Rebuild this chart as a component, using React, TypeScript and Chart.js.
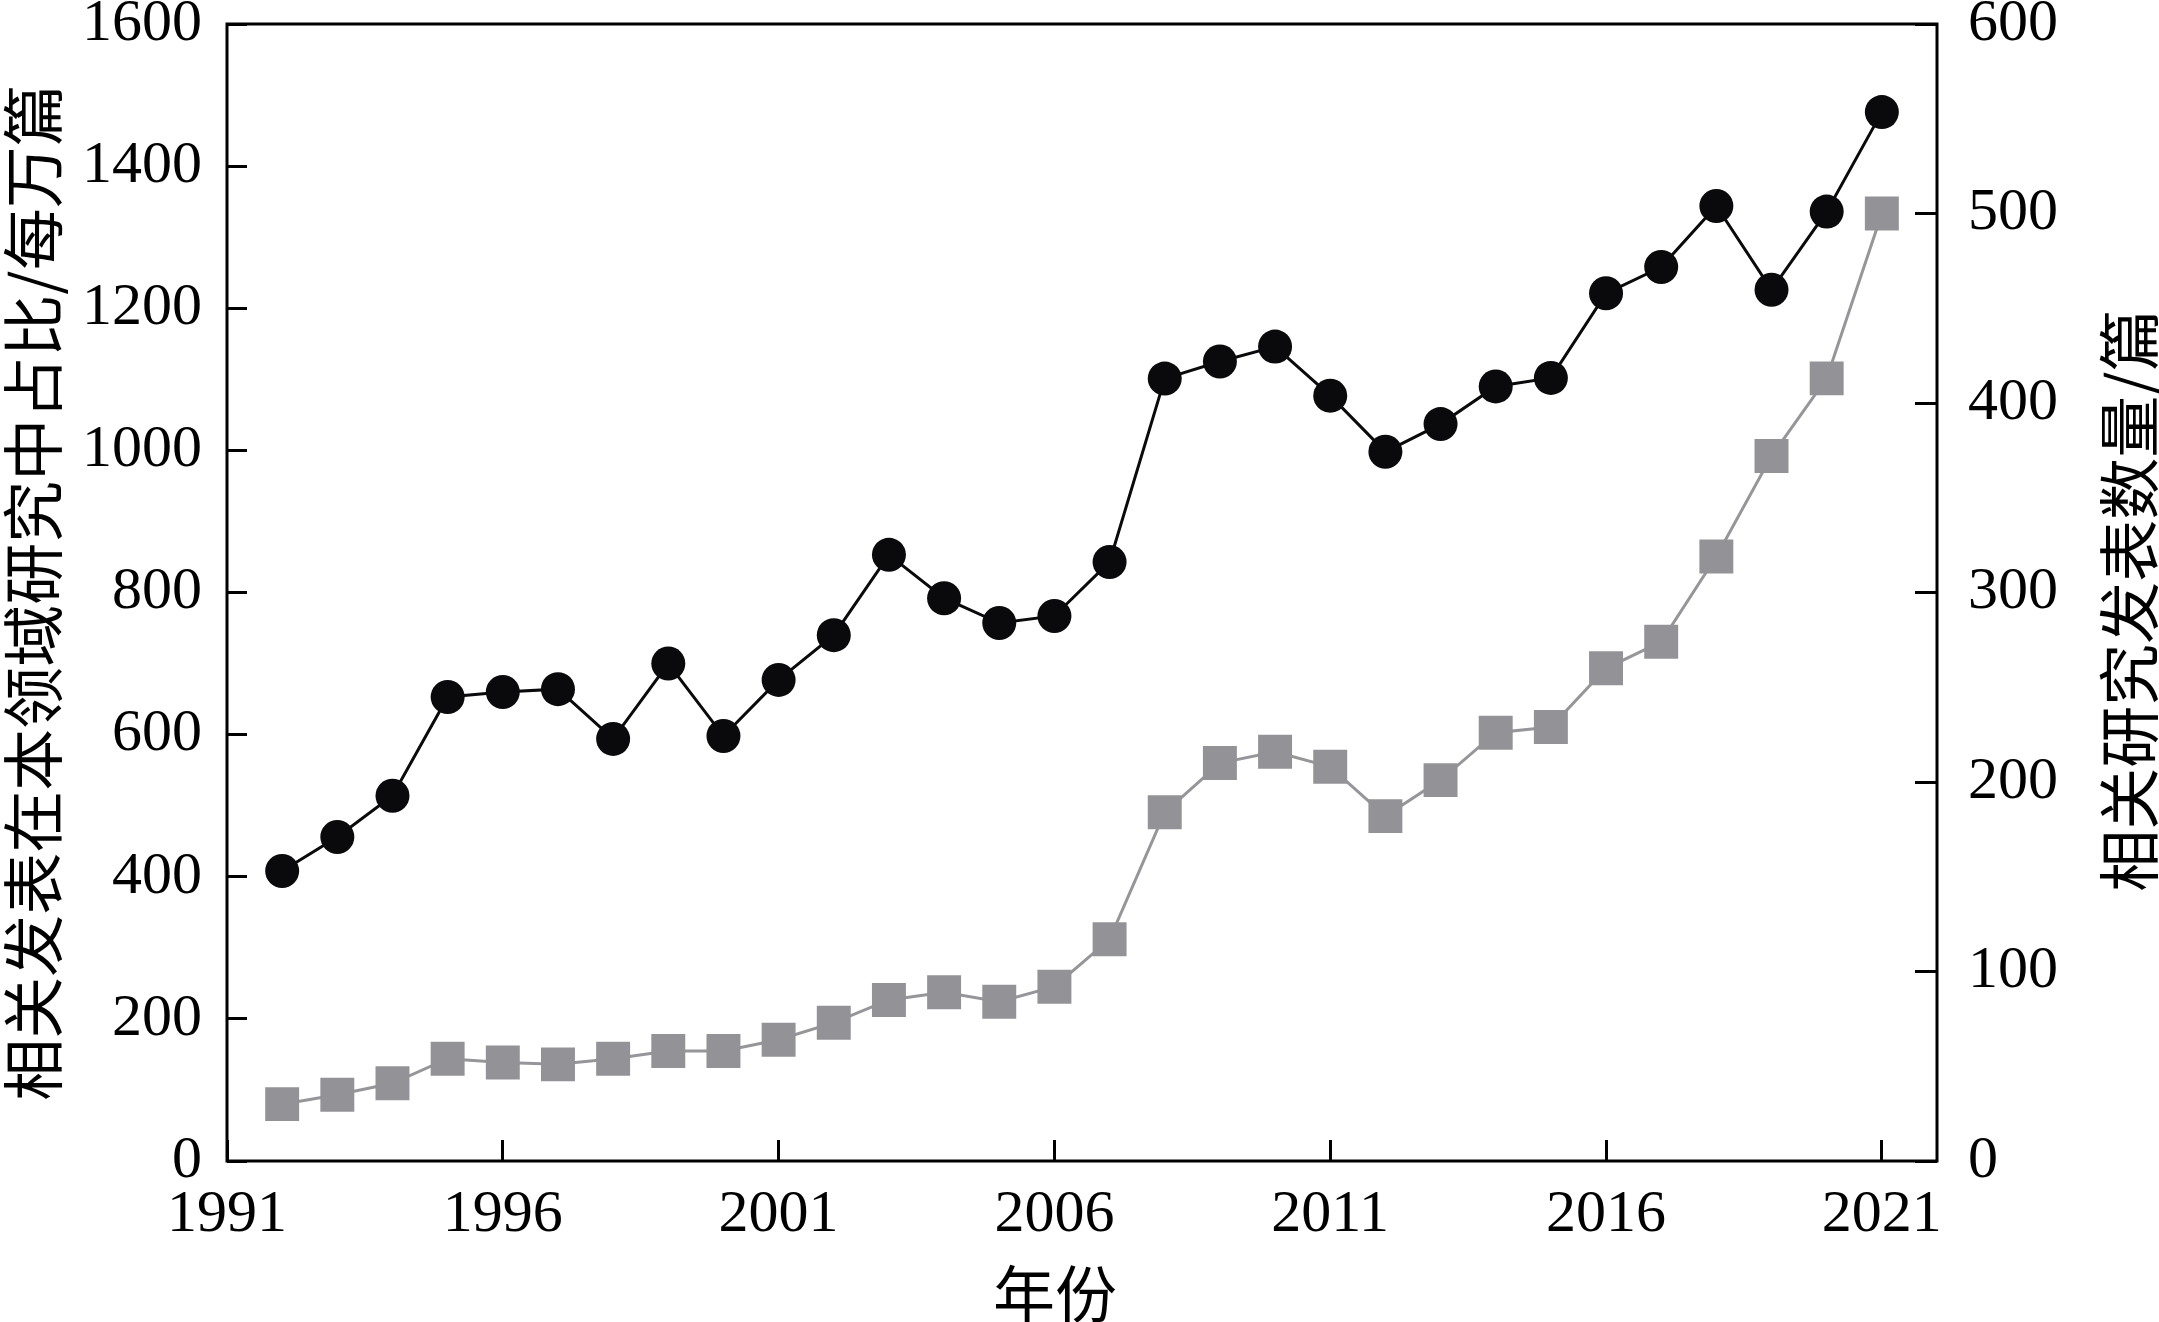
import React, { useEffect, useRef } from "react";
import { Chart, registerables } from "chart.js";

Chart.register(...registerables);

const years = [
  1992, 1993, 1994, 1995, 1996, 1997, 1998, 1999, 2000, 2001,
  2002, 2003, 2004, 2005, 2006, 2007, 2008, 2009, 2010, 2011,
  2012, 2013, 2014, 2015, 2016, 2017, 2018, 2019, 2020, 2021,
];
const shareValues = [
  408, 456, 514, 653, 660, 664, 594, 700, 598, 677,
  740, 853, 792, 757, 767, 843, 1101, 1125, 1146, 1077,
  998, 1037, 1090, 1102, 1221, 1258, 1344, 1226, 1336, 1476,
];
const countValues = [
  30, 35, 41, 54, 52, 51, 54, 58, 58, 64,
  73, 85, 89, 84, 92, 117, 184, 210, 216, 208,
  182, 201, 226, 229, 260, 274, 319, 372, 413, 500,
];
const xTicks = [1991, 1996, 2001, 2006, 2011, 2016, 2021];
const leftTitle = "相关发表在本领域研究中占比/每万篇";
const rightTitle = "相关研究发表数量/篇";
const xTitle = "年份";

const W = 2159;
const H = 1322;

export default function App() {
  const ref = useRef<HTMLCanvasElement>(null);

  useEffect(() => {
    const canvas = ref.current;
    if (!canvas) return;
    let chart: any = null;
    let cancelled = false;
    const tickFont = { family: "'Liberation Serif'", size: 60, lineHeight: 1 };
    const cjkFont = "62px 'Noto Sans CJK SC'";

    const framePlugin = {
      id: "frameAndTitles",
      afterDraw(c: any) {
        const { ctx, chartArea: a } = c;
        ctx.save();
        ctx.strokeStyle = "#000";
        ctx.lineWidth = 3;
        ctx.strokeRect(a.left, a.top, a.right - a.left, a.bottom - a.top);
        ctx.fillStyle = "#000";
        ctx.font = cjkFont;
        ctx.textAlign = "center";
        ctx.textBaseline = "middle";
        const midY = (a.top + a.bottom) / 2;
        ctx.save();
        ctx.translate(33, midY);
        ctx.rotate(-Math.PI / 2);
        ctx.fillText(leftTitle, 0, 0);
        ctx.restore();
        ctx.save();
        ctx.translate(2129, midY + 8);
        ctx.rotate(-Math.PI / 2);
        ctx.fillText(rightTitle, 0, 0);
        ctx.restore();
        ctx.fillText(xTitle, (a.left + a.right) / 2 - 27, 1294);
        ctx.restore();
      },
    };

    const build = () => {
      if (cancelled) return;
      chart = new Chart(canvas, {
        type: "line",
        data: {
          datasets: [
            {
              label: "share",
              data: years.map((yr, i) => ({ x: yr, y: shareValues[i] })),
              yAxisID: "y",
              borderColor: "#0a0a0c",
              backgroundColor: "#0a0a0c",
              borderWidth: 3,
              pointStyle: "circle",
              pointRadius: 17,
              pointBorderWidth: 0,
              pointBackgroundColor: "#0a0a0c",
              tension: 0,
            },
            {
              label: "count",
              data: years.map((yr, i) => ({ x: yr, y: countValues[i] })),
              yAxisID: "y1",
              borderColor: "#969599",
              backgroundColor: "#939296",
              borderWidth: 3,
              pointStyle: "rect",
              pointRadius: 24,
              pointBorderWidth: 0,
              pointBackgroundColor: "#939296",
              tension: 0,
            },
          ],
        },
        options: {
          animation: false,
          responsive: false,
          devicePixelRatio: 1,
          layout: { padding: { top: 22, left: 0, right: 0, bottom: 0 } },
          plugins: { legend: { display: false }, tooltip: { enabled: false } },
          scales: {
            x: {
              type: "linear",
              min: 1991,
              max: 2022,
              afterBuildTicks: (s: any) => {
                s.ticks = xTicks.map((v) => ({ value: v }));
              },
              afterFit: (s: any) => {
                s.height = H - 1161;
                s.paddingLeft = 0;
                s.paddingRight = 0;
              },
              ticks: {
                autoSkip: false,
                maxRotation: 0,
                padding: 45,
                color: "#000",
                font: tickFont,
                callback: (v: any) => String(v),
              },
              grid: { drawOnChartArea: false, tickLength: -21, color: "#000", lineWidth: 3 },
              border: { display: false },
            },
            y: {
              type: "linear",
              position: "left",
              min: 0,
              max: 1600,
              ticks: {
                stepSize: 200,
                padding: 45,
                color: "#000",
                font: tickFont,
                callback: (v: any) => String(v),
              },
              afterFit: (s: any) => {
                s.width = 227;
                s.paddingTop = 0;
                s.paddingBottom = 0;
              },
              grid: { drawOnChartArea: false, tickLength: -20, color: "#000", lineWidth: 3 },
              border: { display: false },
            },
            y1: {
              type: "linear",
              position: "right",
              min: 0,
              max: 600,
              ticks: {
                stepSize: 100,
                padding: 53,
                color: "#000",
                font: tickFont,
                callback: (v: any) => String(v),
              },
              afterFit: (s: any) => {
                s.width = W - 1937;
                s.paddingTop = 0;
                s.paddingBottom = 0;
              },
              grid: { drawOnChartArea: false, tickLength: -22, color: "#000", lineWidth: 3 },
              border: { display: false },
            },
          },
        },
        plugins: [framePlugin],
      } as any);
    };

    const fontsApi: any = (document as any).fonts;
    if (fontsApi && fontsApi.load) {
      Promise.all([
        fontsApi.load("60px 'Liberation Serif'"),
        fontsApi.load("62px 'Noto Sans CJK SC'", "相关年份"),
      ])
        .catch(() => null)
        .then(build);
    } else {
      build();
    }

    return () => {
      cancelled = true;
      if (chart) chart.destroy();
    };
  }, []);

  return (
    <div style={{ position: "absolute", left: 0, top: 0, width: W, height: H, background: "#fff" }}>
      <canvas ref={ref} width={W} height={H} style={{ width: W, height: H, display: "block" }} />
    </div>
  );
}
